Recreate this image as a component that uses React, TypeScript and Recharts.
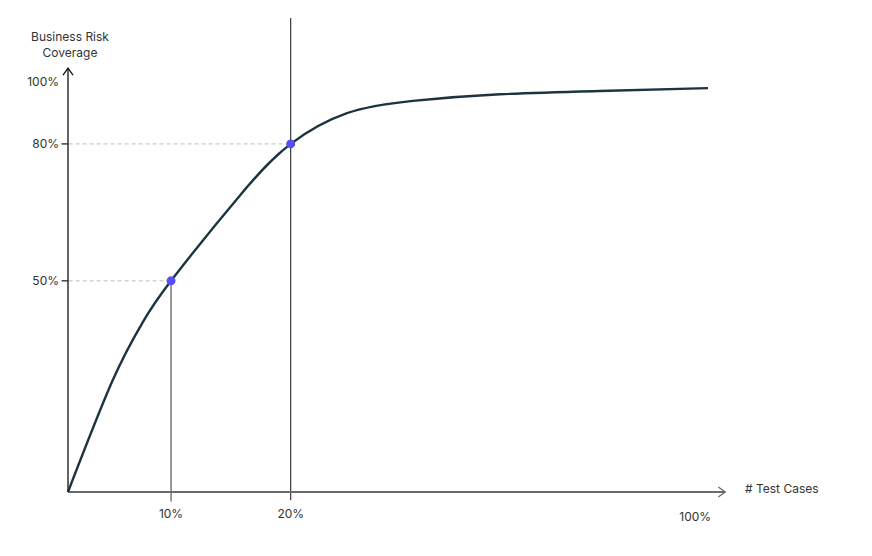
import { LineChart, Line, XAxis, YAxis, ReferenceLine, ReferenceDot } from "recharts"

// curve (chart units: x 0-100 along the axis, y 0-100 up the axis)
const curveX = [0, 7.0, 11.6, 16.1, 26.9, 34.8, 43.6, 53.9, 67.5, 83.1, 100]
const curveY = [0, 27.3, 41.2, 51.5, 72.4, 84.9, 92.4, 95.4, 97.0, 97.8, 98.5]

const xTicks = [16.1, 34.8, 98]
const xTickLabels = ["10%", "20%", "100%"]
const yTicks = [51.5, 84.9, 100]
const yTickLabels = ["50%", "80%", "100%"]

const markers = [
    { x: 16.1, y: 51.5 },
    { x: 34.8, y: 84.9 },
]

const data = curveX.map((x, i) => ({ x, y: curveY[i] }))

const FONT = "Inter, 'Noto Sans', sans-serif"
const TEXT = "#333"

const ArrowLine = (dir: "up" | "right", color: string, width: number) => (p: any) => {
    const { x1, y1, x2, y2 } = p
    const tip = dir === "up"
        ? `${x2 - 5},${y2 + 7} ${x2},${y2} ${x2 + 5},${y2 + 7}`
        : `${x2 - 7},${y2 - 5} ${x2},${y2} ${x2 - 7},${y2 + 5}`
    return (
        <g>
            <line x1={x1} y1={y1} x2={x2} y2={y2} stroke={color} strokeWidth={width} />
            <polyline points={tip} fill="none" stroke={color} strokeWidth={1.3} />
        </g>
    )
}

const YTick = (p: any) => {
    const i = yTicks.indexOf(p.payload.value)
    return (
        <text x={p.x - 1} y={p.y} dy={4} textAnchor="end" fontSize={12} fontFamily={FONT} fill={TEXT}>
            {yTickLabels[i]}
        </text>
    )
}

const XTick = (p: any) => {
    const i = xTicks.indexOf(p.payload.value)
    return (
        <text x={p.x} y={p.y} dy={i === 2 ? 21 : 18} textAnchor="middle" fontSize={12} fontFamily={FONT} fill={TEXT}>
            {xTickLabels[i]}
        </text>
    )
}

const YTitle = (p: any) => {
    const vb = p.viewBox
    const cx = vb.x + vb.width + 2
    return (
        <text x={cx} y={vb.y - 41} textAnchor="middle" fontSize={12} fontFamily={FONT} fill={TEXT}>
            <tspan x={cx}>Business Risk</tspan>
            <tspan x={cx} dy={16}>Coverage</tspan>
        </text>
    )
}

const XTitle = (p: any) => {
    const vb = p.viewBox
    return (
        <text x={vb.x + vb.width + 37} y={vb.y + 1} fontSize={12} fontFamily={FONT} fill={TEXT}>
            # Test Cases
        </text>
    )
}

export default function App() {
    return (
        <div style={{ position: "absolute", left: 0, top: 0, width: 872, height: 556, background: "#fff" }}>
            <LineChart width={872} height={556} data={data} margin={{ top: 82, right: 164, left: 8, bottom: 34 }}>
                <XAxis
                    type="number"
                    dataKey="x"
                    domain={[0, 100]}
                    ticks={xTicks}
                    interval={0}
                    axisLine={false}
                    tickLine={false}
                    tick={<XTick />}
                    height={30}
                    label={<XTitle />}
                />
                <YAxis
                    type="number"
                    domain={[0, 100]}
                    ticks={yTicks}
                    interval={0}
                    axisLine={false}
                    tickLine={false}
                    tick={<YTick />}
                    width={60}
                    label={<YTitle />}
                />
                {markers.map((m) => (
                    <ReferenceLine
                        key={`h${m.x}`}
                        segment={[{ x: -1, y: m.y }, { x: m.x, y: m.y }]}
                        stroke="#bdbdbd"
                        strokeDasharray="4 3"
                        ifOverflow="visible"
                    />
                ))}
                {markers.map((m) => (
                    <ReferenceLine
                        key={`t${m.x}`}
                        segment={[{ x: -1, y: m.y }, { x: 0, y: m.y }]}
                        stroke="#222"
                        strokeWidth={1.2}
                        ifOverflow="visible"
                    />
                ))}
                <ReferenceLine
                    segment={[{ x: markers[0].x, y: -2.3 }, { x: markers[0].x, y: markers[0].y }]}
                    stroke="#555"
                    strokeWidth={1.2}
                    ifOverflow="visible"
                />
                <ReferenceLine
                    segment={[{ x: markers[1].x, y: -2 }, { x: markers[1].x, y: 115.6 }]}
                    stroke="#111"
                    ifOverflow="visible"
                />
                <ReferenceLine
                    segment={[{ x: 0, y: 0 }, { x: 0, y: 103.4 }]}
                    ifOverflow="visible"
                    shape={ArrowLine("up", "#111", 1.3)}
                />
                <ReferenceLine
                    segment={[{ x: 0, y: 0 }, { x: 102.7, y: 0 }]}
                    ifOverflow="visible"
                    shape={ArrowLine("right", "#6a6a6a", 1.8)}
                />
                <Line
                    type="natural"
                    dataKey="y"
                    stroke="#1c3440"
                    strokeWidth={2.4}
                    dot={false}
                    isAnimationActive={false}
                />
                {markers.map((m) => (
                    <ReferenceDot key={`d${m.x}`} x={m.x} y={m.y} r={4.5} fill="#5a4ff3" stroke="none" ifOverflow="visible" />
                ))}
            </LineChart>
        </div>
    )
}
